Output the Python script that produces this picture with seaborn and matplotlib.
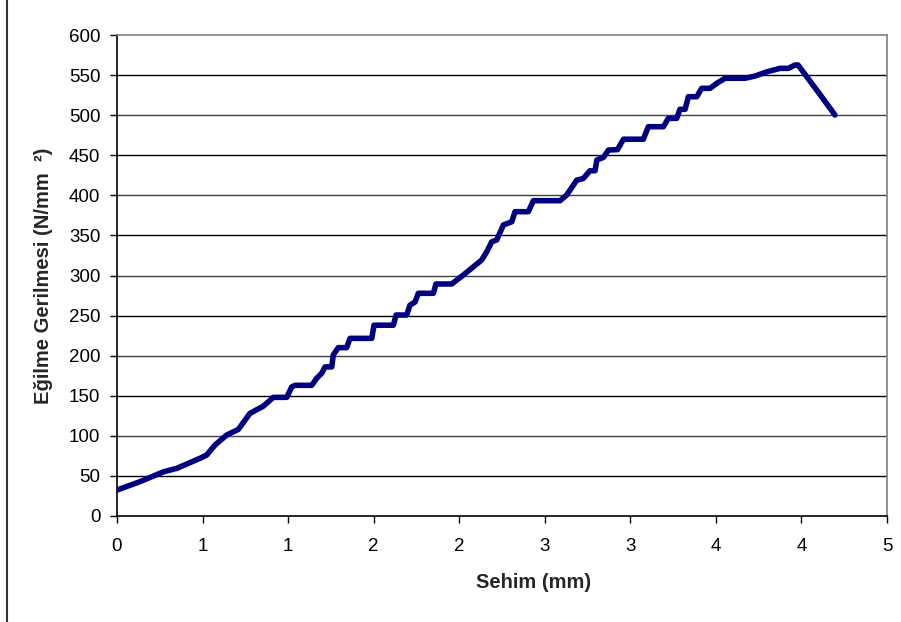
import matplotlib
matplotlib.use("Agg")
import matplotlib.pyplot as plt
import seaborn as sns
import pandas as pd
from matplotlib.lines import Line2D

sehim = [0.000, 0.134, 0.270, 0.350, 0.485, 0.524, 0.573, 0.641, 0.709, 0.777,
         0.855, 0.914, 0.992, 1.021, 1.040, 1.138, 1.167, 1.196, 1.216, 1.255,
         1.264, 1.293, 1.342, 1.362, 1.489, 1.502, 1.615, 1.631, 1.693, 1.712,
         1.742, 1.761, 1.849, 1.864, 1.956, 2.024, 2.131, 2.161, 2.190, 2.219,
         2.258, 2.307, 2.326, 2.404, 2.433, 2.589, 2.628, 2.687, 2.725, 2.764,
         2.794, 2.804, 2.843, 2.872, 2.925, 2.960, 3.076, 3.105, 3.193, 3.222,
         3.271, 3.290, 3.320, 3.339, 3.388, 3.417, 3.466, 3.505, 3.553, 3.670,
         3.729, 3.797, 3.875, 3.923, 3.963, 3.980, 4.089, 4.196]
gerilme = [32.4, 42.8, 55.0, 59.5, 72.0, 76.0, 88.6, 101.0, 108.0, 128.0,
           137.0, 148.0, 148.0, 161.0, 163.0, 163.0, 171.8, 178.0, 186.0, 186.0,
           201.0, 210.0, 210.0, 221.6, 221.6, 238.0, 238.0, 250.7, 250.7, 263.0,
           267.0, 277.8, 277.8, 289.4, 289.4, 300.6, 319.3, 329.7, 342.0, 344.3,
           363.0, 367.0, 379.6, 379.6, 393.3, 393.3, 400.4, 419.0, 421.0, 430.7,
           430.7, 444.0, 447.4, 456.5, 457.0, 470.0, 470.0, 485.6, 485.6, 496.0,
           496.0, 507.3, 507.3, 523.0, 523.0, 533.5, 533.5, 539.7, 546.0, 546.0,
           548.8, 554.0, 558.4, 558.4, 562.6, 562.6, 531.4, 500.2]

x_ticks = [0, 0.5, 1.0, 1.5, 2.0, 2.5, 3.0, 3.5, 4.0, 4.5]
x_tick_labels = ["0", "1", "1", "2", "2", "3", "3", "4", "4", "5"]
y_ticks = list(range(0, 601, 50))

df = pd.DataFrame({"Sehim": sehim, "Gerilme": gerilme})

sns.set_theme(style="white")
plt.rcParams['font.family'] = ['Liberation Sans', 'DejaVu Sans']

fig = plt.figure(figsize=(9.01, 6.22), dpi=100)
ax = fig.add_axes([117/901, 1-516/622, (887-117)/901, (516-35)/622])

for i, yv in enumerate(y_ticks[1:-1]):
    ax.axhline(yv, color="black" if i % 2 == 0 else "#404040", lw=1.0, zorder=1)

sns.lineplot(data=df, x="Sehim", y="Gerilme", ax=ax, sort=False, estimator=None,
             color="#000080", lw=4.0, zorder=3,
             solid_joinstyle="round", solid_capstyle="round")

ax.set_xlim(0, 4.5)
ax.set_ylim(0, 600)
ax.set_xticks(x_ticks)
ax.set_xticklabels(x_tick_labels)
ax.set_yticks(y_ticks)
ax.tick_params(axis="both", direction="out", length=5, width=1, colors="black",
               labelsize=13.5, pad=6, left=True, bottom=True)
ax.tick_params(axis="x", pad=11)
ax.tick_params(axis="y", pad=7)

for s in ["left", "bottom"]:
    ax.spines[s].set_color("black")
    ax.spines[s].set_linewidth(1.2)
for s in ["top", "right"]:
    ax.spines[s].set_color("#808080")
    ax.spines[s].set_linewidth(1.2)

ax.set_xlabel("Sehim (mm)", fontsize=14.5, fontweight="bold")
ax.set_ylabel("Eğilme Gerilmesi (N/mm  ²)", fontsize=14.5, fontweight="bold")
ax.xaxis.set_label_coords((534-117)/770, (516-583)/481)
ax.yaxis.set_label_coords((44-117)/770, 0.5)
ax.xaxis.label.set_va("center")
ax.yaxis.label.set_va("center")

fig.add_artist(Line2D([7/901, 7/901], [0, 1], color="#333333", lw=1.5))

fig.savefig("out.png", dpi=100)
